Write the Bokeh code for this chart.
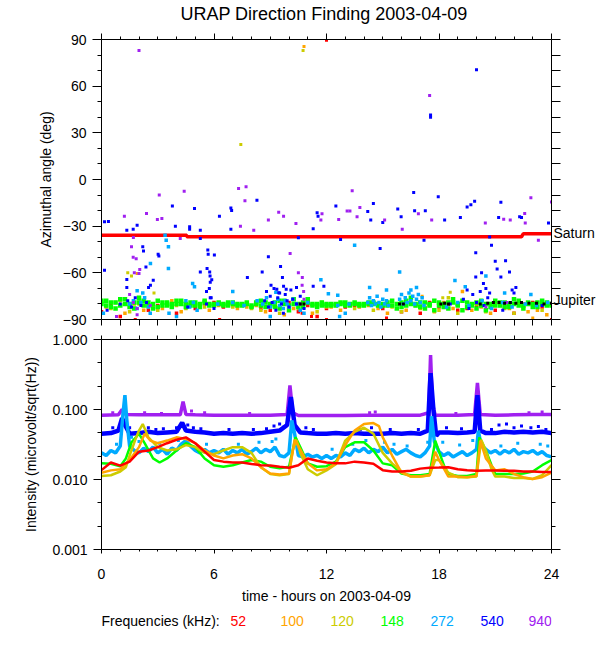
from bokeh.plotting import figure
from bokeh.models import (LinearAxis, LogAxis, FixedTicker, Label, PrintfTickFormatter, Range1d,
                          CustomJSTickFormatter)
from bokeh.layouts import column
from bokeh.embed import file_html
from bokeh.resources import INLINE

FONT = "Liberation Sans"

# ---------------- data ----------------
title_text = "URAP Direction Finding  2003-04-09"
hour_ticks = [0, 6, 12, 18, 24]
hour_minor = [1, 2, 3, 4, 5, 7, 8, 9, 10, 11, 13, 14, 15, 16, 17, 19, 20, 21, 22, 23]
angle_ticks = [-90, -60, -30, 0, 30, 60, 90]
angle_minor = [-80, -70, -50, -40, -20, -10, 10, 20, 40, 50, 70, 80]
int_ticks = [0.001, 0.01, 0.1, 1.0]
int_minor = [0.464, 0.215, 0.0464, 0.0215, 0.00464, 0.00215]

planet_names = ["Saturn", "Jupiter"]
planet_angles = [-34.5, -77.6]

freq_labels = ["52", "100", "120", "148", "272", "540", "940"]
freq_colors = ["#FF0000", "#FFA500", "#CCCC00", "#00FF00", "#00AAFF", "#0000FF", "#A020F0"]

# Saturn / Jupiter direction
saturn_t = [0.0, 4.55, 4.55, 22.4, 22.5, 24.0]
saturn_a = [-35.9, -35.9, -36.8, -36.8, -34.8, -34.8]
jupiter_t = [10.6, 10.8, 15.9, 16.1, 18.1, 18.3, 18.5, 20.2, 20.6, 20.9, 21.2, 21.5,
             21.8, 22.1, 22.4, 22.8, 23.2, 23.6, 24.0]
jupiter_a = [-80, -80, -80, -80, -80, -79.5, -80, -80, -79.5, -79, -79, -79.5,
             -79, -79.5, -79, -79.5, -79.5, -80, -79.5]

quarter_hours = [0.0, 0.25, 0.5, 0.75, 1.0, 1.25, 1.5, 1.75, 2.0, 2.25, 2.5, 2.75, 3.0,
                 3.25, 3.5, 3.75, 4.0, 4.25, 4.5, 4.75, 5.0, 5.25, 5.5, 5.75, 6.0,
                 6.25, 6.5, 6.75, 7.0, 7.25, 7.5, 7.75, 8.0, 8.25, 8.5, 8.75, 9.0,
                 9.25, 9.5, 9.75, 10.0, 10.25, 10.5, 10.75, 11.0, 11.25, 11.5, 11.75, 12.0,
                 12.25, 12.5, 12.75, 13.0, 13.25, 13.5, 13.75, 14.0, 14.25, 14.5, 14.75, 15.0,
                 15.25, 15.5, 15.75, 16.0, 16.25, 16.5, 16.75, 17.0, 17.25, 17.5, 17.75, 18.0,
                 18.25, 18.5, 18.75, 19.0, 19.25, 19.5, 19.75, 20.0, 20.25, 20.5, 20.75, 21.0,
                 21.25, 21.5, 21.75, 22.0, 22.25, 22.5, 22.75, 23.0, 23.25, 23.5, 23.75, 24.0]
half_hours = [0.0, 0.5, 1.0, 1.5, 2.0, 2.5, 3.0, 3.5, 4.0, 4.5, 5.0, 5.5, 6.0, 6.5, 7.0, 7.5,
              8.0, 8.5, 9.0, 9.5, 10.0, 10.5, 11.0, 11.5, 12.0, 12.5, 13.0, 13.5, 14.0, 14.5,
              15.0, 15.5, 16.0, 16.5, 17.0, 17.5, 18.0, 18.5, 19.0, 19.5, 20.0, 20.5, 21.0,
              21.5, 22.0, 22.5, 23.0, 23.5, 24.0]
half_hours_mid = [0.25, 0.75, 1.25, 1.75, 2.25, 2.75, 3.25, 3.75, 4.25, 4.75, 5.25, 5.75,
                  6.25, 6.75, 7.25, 7.75, 8.25, 8.75, 9.25, 9.75, 10.25, 10.75, 11.25, 11.75,
                  12.25, 12.75, 13.25, 13.75, 14.25, 14.75, 15.25, 15.75, 16.25, 16.75, 17.25,
                  17.75, 18.25, 18.75, 19.25, 19.75, 20.25, 20.75, 21.25, 21.75, 22.25, 22.75,
                  23.25, 23.75]

# Angles in the Jupiter band (deg)
green_band_a1 = [-80, -78, -82, -79, -81, -77, -80, -83, -79, -78, -81, -80, -82,
                 -79, -81, -80, -78, -80, -82, -79, -81, -80, -79, -81, -80,
                 -80, -81, -79, -80, -81, -80, -79, -81, -80, -78, -82, -80,
                 -79, -83, -78, -81, -80, -82, -79, -77, -81, -80, -81, -80,
                 -80, -81, -80, -79, -81, -80, -80, -81, -79, -80, -81, -80,
                 -79, -81, -80, -82, -78, -80, -81, -79, -83, -80, -78, -81,
                 -80, -83, -79, -81, -78, -82, -80, -79, -81, -84, -80, -78,
                 -81, -79, -82, -80, -78, -81, -80, -82, -79, -80, -81, -80]
green_band_a2 = [-78, -81, -79, -83, -77, -80, -82, -79, -76, -81, -79, -83, -78,
                 -81, -79, -82, -80, -78, -80, -81, -79, -82, -78, -80, -81,
                 -79, -80, -81, -79, -80, -81, -80, -82, -79, -81, -79, -81,
                 -82, -78, -80, -84, -77, -80, -82, -79, -80, -82, -79, -81,
                 -81, -80, -79, -81, -80, -79, -81, -80, -80, -79, -80, -81,
                 -81, -78, -83, -79, -81, -76, -80, -82, -79, -81, -84, -79,
                 -82, -79, -77, -80, -84, -79, -81, -83, -78, -80, -82, -81,
                 -79, -82, -80, -77, -81, -83, -79, -80, -82, -78, -79, -81]
yellow_band_a = [-79, -83, -78, -85, -80, -82, -84, -79, -81, -83,
                 -80, -82, -81, -80, -82, -81, -83, -84, -82, -86,
                 -81, -83, -78, -85, -82, -81, -80, -83, -81, -84,
                 -80, -82, -85, -78, -83, -81, -84, -76, -86, -82,
                 -80, -85, -79, -83, -86, -82, -81, -84, -80]
orange_band_a = [-82, -79, -86, -80, -84, -81, -83, -78, -85, -80,
                 -82, -84, -81, -80, -83, -82, -81, -85, -80, -87,
                 -83, -81, -86, -79, -82, -84, -80, -82, -81, -83,
                 -86, -80, -84, -81, -82, -85, -79, -83, -72, -84,
                 -82, -86, -81, -83, -80, -85, -84, -87]
red_band_a = [-85, -80, -88, -82, -79, -84, -81, -80, -86, -82,
              -83, -80, -79, -82, -81, -80, -82, -83, -84, -82,
              -79, -85, -81, -88, -83, -80, -82, -81, -80, -79,
              -83, -81, -85, -80, -86, -79, -82, -80, -84, -83,
              -81, -80, -84, -82, -86, -80, -79, -82, -80]

lightblue_pts_t = [1.5, 1.7, 1.9, 2.1, 2.3, 2.5, 4.5, 4.7, 4.9, 5.1, 6.2, 7.0, 7.6, 8.3,
                   8.6, 8.8, 9.0, 9.2, 9.4, 9.5, 9.6, 9.7, 9.8, 9.9, 10.0, 10.2, 10.4, 10.6, 11.0,
                   12.6, 13.2, 14.2, 14.3, 14.4, 14.5, 14.6, 14.7, 14.8, 14.9, 15.0, 15.1, 15.2, 15.3,
                   15.9, 16.0, 16.1, 16.2, 16.3, 16.4, 16.5, 16.6, 16.7, 16.8, 16.9, 17.0, 17.1, 17.2,
                   18.4, 19.0, 19.6, 20.3, 20.8, 21.4, 21.9, 22.6, 23.2, 23.8,
                   3.6, 4.0, 9.0, 10.8, 12.7, 13.0,
                   3.39, 3.57, 3.57, 2.61, 3.45, 4.86, 4.96, 12.6, 13.5, 14.3, 15.9, 16.8, 19.4,
                   18.85, 12.1, 7.0, 9.3, 21.5, 22.9, 1.9, 2.2, 11.7, 20.5, 0.1, 2.6, 16.5, 15.2]
lightblue_pts_a = [-80, -78, -83, -79, -76, -82, -78, -82, -79, -84, -80, -79, -81, -78,
                   -80, -76, -82, -79, -77, -81, -79, -83, -78, -80, -82, -77, -80, -84, -79,
                   -81, -80, -79, -76, -81, -78, -80, -75, -79, -82, -77, -80, -78, -81,
                   -77, -74, -80, -76, -79, -73, -78, -75, -80, -77, -74, -79, -76, -81,
                   -82, -79, -81, -78, -83, -79, -82, -80, -81, -79,
                   -86, -88, -88, -86, -88, -86,
                   -35.8, -43.3, -57.2, -54, -39, -66.9, -69, -74.4, -42.2, -69.4, -59.4, -69.4, -69,
                   -65, -73.5, -72, -72.5, -73, -74, -71.5, -73, -64.5, -62, -86, -86, -71, -71]

blue_pts_t = [0.3, 1.0, 1.4, 1.6, 1.8, 2.1, 2.4, 4.6, 5.6, 5.8, 6.0, 8.7, 8.8, 8.9, 9.0, 9.1,
              9.2, 9.3, 9.4, 9.5, 9.6, 9.7, 9.8, 9.9, 10.0, 10.1, 10.2, 10.4, 10.6, 10.8,
              18.6, 19.3, 19.6, 19.8, 20.0, 20.2, 20.4, 20.6, 21.4, 21.8, 22.0, 23.5,
              17.55, 17.55, 20.0, 8.29, 16.65, 17.96, 19.9, 19.7, 21.3, 14.5, 12.5, 3.78,
              0.16, 0.37, 1.35, 1.69, 1.9, 3.94, 4.7, 4.7, 4.96, 5.27, 5.27, 6.29, 6.9, 6.94,
              6.9, 11.29, 11.5, 11.55, 14.2, 14.36, 15.0, 15.8, 15.98, 16.7, 17.27, 18.3,
              19.14, 19.5, 21.18, 22.3, 22.4, 23.84, 12.75, 10.5, 0.16, 1.35, 1.35, 2.2,
              2.24, 2.37, 2.61, 2.51, 2.76, 3.02, 3.06, 5.27, 5.67, 5.69, 5.63, 5.77, 5.79,
              5.8, 5.75, 5.6, 5.85, 6.02, 5.88, 7.78, 8.57, 8.9, 9.04, 9.55, 9.65, 9.71,
              9.85, 9.35, 9.45, 10.4, 11.29, 11.86, 14.86, 17.2, 19.96, 20.37, 20.27, 19.96,
              20.8, 21.0, 21.1, 21.3, 21.55, 21.76, 21.9, 20.7, 22.1, 19.5, 20.5, 20.7]
blue_pts_a = [-84, -80, -78, -82, -76, -81, -79, -82, -80, -76, -83, -78, -72, -82, -75, -79,
              -70, -84, -76, -73, -80, -86, -74, -78, -82, -71, -77, -80, -75, -83,
              -80, -77, -83, -74, -79, -72, -81, -76, -84, -79, -73, -81,
              41.5, 40, 70.5, -13.3, -8.4, -11.1, -14, -16.3, -14.6, -15.4, -17, -17,
              -27.2, -27, -32.6, -32, -29.4, -30, -30.4, -32, -18.6, -32.6, -38, -23.6, -18.4, -20,
              -32, -31.7, -21.4, -23.6, -20.5, -26, -27.6, -18.9, -24, -20.1, -20.1, -26,
              -24.4, -17.6, -24.4, -24, -24.4, -27.9, -38.5, -37.5, -58.3, -69.4, -64.3, -43.3,
              -45.9, -56.3, -68, -69.4, -64.7, -48, -49.2, -59.4, -45.4, -48, -57.2, -59.4, -62,
              -66, -70, -72, -76, -48.6, -64.5, -63, -59.4, -49.7, -68, -56, -63, -68.6,
              -70.6, -70.6, -72.8, -69.5, -68.6, -68.6, -44.4, -39, -47.1, -66.9, -60, -62.6,
              -42.2, -52.5, -57.6, -62.6, -52.3, -59.4, -71, -36.9, -69.4, -71, -70, -73]

purple_pts_t = [1.7, 1.9, 2.6, 10.6, 10.8, 20.5, 21.6, 0.8, 1.9,
                2.0, 17.5, 7.31, 7.71, 7.65, 4.41, 3.08, 13.37, 22.9, 24.0, 1.22, 2.4, 2.98, 3.22,
                7.41, 8.12, 8.9, 9.45, 9.71, 10.37, 11.7, 11.76, 12.65, 13.1, 13.25, 13.63, 13.78,
                15.1, 16.04, 16.9, 17.61, 20.47, 21.45, 21.8, 22.57, 22.6, 23.3, 1.6, 1.69, 1.85,
                1.7, 1.75, 2.0, 2.04, 10.06, 10.5, 10.71, 10.78, 10.7, 1.5, 4.2]
purple_pts_a = [-79, -83, -81, -80, -77, -82, -79, -88, -87,
                83, 54, -5.8, -4.7, -13.7, -7.5, -10, -7.3, -11.8, -14.4, -23.6, -21.9, -25.7, -25,
                -30, -32.6, -26, -21, -23.6, -28.3, -26, -22, -25.7, -20.2, -20.2, -24, -18,
                -26, -32, -22, -26, -27.9, -25.5, -26, -21.9, -27.9, -39, -43.3, -50, -51,
                -37.3, -60, -60.5, -57.9, -47.6, -60, -63, -72, -68, -74, -38]

yellow_pts_t = [10.75, 7.43, 1.4, 1.6, 2.8, 18.6, 18.2]
yellow_pts_a = [83, 22.5, -60, -62, -73, -72.5, -76]
orange_pts_t = [10.8, 1.9, 17.1, 23.0]
orange_pts_a = [85.5, -60.5, -75, -89]
red_pts_t = [12.0, 0.0, 1.8, 12.0, 15.2, 24.0, 6.3, 10.7, 11.2]
red_pts_a = [89.5, -86, -90, -90, -89, -90, -90, -86, -88]

# Intensity (microvolt/sqrt(Hz))
f52_t = half_hours
f52_v = [0.0136, 0.0175, 0.0158, 0.018, 0.025, 0.026, 0.029, 0.033, 0.037, 0.040,
         0.033, 0.025, 0.019, 0.018, 0.0175, 0.0175, 0.0167, 0.016, 0.0158, 0.0152,
         0.0147, 0.016, 0.020, 0.0185, 0.0175, 0.017, 0.017, 0.018, 0.0175, 0.0168,
         0.0136, 0.013, 0.013, 0.0133, 0.0143, 0.0147, 0.0148, 0.015, 0.014, 0.0136,
         0.0133, 0.0135, 0.0135, 0.0133, 0.0133, 0.013, 0.013, 0.0128, 0.0128]
f100_t = [0.0, 0.5, 1.0, 1.5, 2.0, 2.3, 2.6, 3.0, 3.5, 4.0, 4.5, 5.0, 5.5, 6.0, 6.5, 7.0, 7.5,
          8.0, 8.5, 9.0, 9.5, 10.0, 10.3, 10.6, 11.0, 11.5, 12.0, 12.5, 13.0, 13.5, 14.0, 14.5,
          14.8, 15.0, 15.5, 16.0, 16.5, 17.0, 17.5, 17.8, 18.0, 18.5, 19.0, 19.5, 20.0, 20.2,
          20.5, 21.0, 21.5, 22.0, 22.5, 23.0, 23.5, 24.0]
f100_v = [0.0125, 0.0135, 0.014, 0.019, 0.029, 0.045, 0.036, 0.033, 0.036, 0.040, 0.038, 0.033,
          0.026, 0.022, 0.020, 0.022, 0.023, 0.020, 0.015, 0.0122, 0.0118, 0.0122, 0.037, 0.027,
          0.017, 0.0135, 0.014, 0.017, 0.031, 0.050, 0.062, 0.064, 0.058, 0.040, 0.022, 0.0125,
          0.011, 0.011, 0.0115, 0.025, 0.019, 0.011, 0.011, 0.0108, 0.0112, 0.036, 0.020, 0.0135,
          0.014, 0.012, 0.0108, 0.0102, 0.0108, 0.0125]
f120_t = [0.0, 0.5, 1.0, 1.3, 1.5, 1.8, 2.0, 2.2, 2.5, 3.0, 3.5, 4.0, 4.5, 5.0, 5.5, 6.0, 6.5,
          7.0, 7.5, 8.0, 8.5, 9.0, 9.5, 10.0, 10.2, 10.4, 10.6, 11.0, 11.5, 12.0, 12.5, 13.0,
          13.5, 14.0, 14.5, 15.0, 15.5, 16.0, 16.5, 17.0, 17.5, 17.8, 18.0, 18.5, 19.0, 19.5,
          20.0, 20.25, 20.5, 20.8, 21.0, 21.5, 22.0, 22.5, 23.0, 23.5, 24.0]
f120_v = [0.0112, 0.0115, 0.013, 0.015, 0.022, 0.037, 0.05, 0.062, 0.040, 0.029, 0.026, 0.027,
          0.031, 0.029, 0.024, 0.023, 0.026, 0.029, 0.029, 0.024, 0.015, 0.012, 0.0115, 0.012,
          0.026, 0.037, 0.024, 0.014, 0.0115, 0.0135, 0.0165, 0.036, 0.048, 0.055, 0.045, 0.024,
          0.017, 0.013, 0.011, 0.011, 0.0115, 0.019, 0.019, 0.0125, 0.0108, 0.0108, 0.011, 0.037,
          0.026, 0.014, 0.011, 0.011, 0.0105, 0.0105, 0.0102, 0.0115, 0.016]
f148_t = [0.0, 0.5, 1.0, 1.3, 1.6, 2.0, 2.3, 2.75, 3.1, 3.5, 4.0, 4.5, 5.0, 5.5, 6.0, 6.5, 7.0,
          7.5, 8.0, 8.5, 9.0, 9.5, 10.0, 10.35, 10.6, 11.0, 11.5, 12.0, 12.5, 13.0, 13.5, 14.0,
          14.5, 15.0, 15.5, 16.0, 16.5, 17.0, 17.5, 17.8, 18.0, 18.3, 18.5, 19.0, 19.5, 20.0,
          20.15, 20.5, 20.8, 21.0, 21.5, 22.0, 22.5, 23.0, 23.5, 24.0]
f148_v = [0.017, 0.0168, 0.0155, 0.02, 0.034, 0.045, 0.033, 0.02, 0.0175, 0.02, 0.026, 0.033,
          0.029, 0.020, 0.016, 0.0152, 0.016, 0.0175, 0.019, 0.018, 0.0152, 0.0145, 0.0152, 0.040,
          0.029, 0.017, 0.0152, 0.0155, 0.018, 0.029, 0.034, 0.034, 0.026, 0.017, 0.016, 0.0122,
          0.0115, 0.0115, 0.012, 0.036, 0.025, 0.015, 0.012, 0.0112, 0.0112, 0.012, 0.040, 0.026,
          0.016, 0.012, 0.012, 0.012, 0.0122, 0.013, 0.016, 0.019]
f272_t = [0.0, 0.25, 0.5, 0.75, 1.0, 1.15, 1.25, 1.35, 1.5, 1.75, 2.0, 2.25, 2.5, 2.75, 3.0,
          3.25, 3.5, 3.75, 4.0, 4.25, 4.5, 4.75, 5.0, 5.25, 5.5, 5.75, 6.0, 6.25, 6.5, 6.75,
          7.0, 7.25, 7.5, 7.75, 8.0, 8.25, 8.5, 8.75, 9.0, 9.25, 9.5, 9.75, 10.0, 10.15, 10.3,
          10.5, 10.75, 11.0, 11.25, 11.5, 11.75, 12.0, 12.25, 12.5, 12.75, 13.0, 13.25, 13.5,
          13.75, 14.0, 14.25, 14.5, 14.75, 15.0, 15.25, 15.5, 15.75, 16.0, 16.25, 16.5, 16.75,
          17.0, 17.25, 17.5, 17.6, 17.75, 18.0, 18.25, 18.5, 18.75, 19.0, 19.25, 19.5, 19.75,
          20.0, 20.1, 20.25, 20.5, 20.75, 21.0, 21.25, 21.5, 21.75, 22.0, 22.25, 22.5, 22.75,
          23.0, 23.25, 23.5, 23.75, 24.0]
f272_v = [0.024, 0.022, 0.026, 0.024, 0.03, 0.09, 0.16, 0.07, 0.03, 0.026, 0.024, 0.028, 0.025,
          0.029, 0.024, 0.027, 0.023, 0.028, 0.026, 0.032, 0.036, 0.03, 0.026, 0.024, 0.027,
          0.024, 0.026, 0.024, 0.027, 0.023, 0.026, 0.024, 0.027, 0.023, 0.025, 0.028, 0.024,
          0.027, 0.025, 0.029, 0.022, 0.021, 0.024, 0.07, 0.045, 0.022, 0.021, 0.023, 0.021,
          0.022, 0.02, 0.022, 0.02, 0.022, 0.021, 0.024, 0.022, 0.027, 0.025, 0.028, 0.024,
          0.027, 0.025, 0.029, 0.024, 0.027, 0.023, 0.025, 0.027, 0.024, 0.022, 0.021, 0.024,
          0.03, 0.08, 0.035, 0.025, 0.022, 0.024, 0.021, 0.023, 0.025, 0.022, 0.024, 0.027,
          0.05, 0.03, 0.027, 0.024, 0.026, 0.023, 0.026, 0.024, 0.027, 0.023, 0.025, 0.024,
          0.026, 0.023, 0.025, 0.022, 0.021]
f540_t = [0.0, 0.5, 0.9, 1.1, 1.25, 1.5, 2.0, 2.5, 3.0, 3.5, 4.0, 4.3, 4.5, 5.0, 5.5, 6.0, 6.5,
          7.0, 7.5, 8.0, 8.5, 9.0, 9.5, 9.9, 10.1, 10.3, 10.6, 11.0, 11.5, 12.0, 12.5, 13.0,
          13.5, 14.0, 14.5, 15.0, 15.5, 16.0, 16.5, 17.0, 17.4, 17.55, 17.7, 17.85, 18.0, 18.5,
          19.0, 19.5, 19.9, 20.05, 20.2, 20.5, 21.0, 21.5, 22.0, 22.5, 23.0, 23.5, 24.0]
f540_v = [0.045, 0.046, 0.05, 0.075, 0.06, 0.045, 0.046, 0.048, 0.046, 0.047, 0.048, 0.065,
          0.05, 0.048, 0.047, 0.045, 0.046, 0.045, 0.046, 0.045, 0.046, 0.048, 0.05, 0.06, 0.15,
          0.06, 0.047, 0.046, 0.045, 0.045, 0.046, 0.045, 0.046, 0.045, 0.045, 0.045, 0.046,
          0.045, 0.046, 0.045, 0.05, 0.33, 0.1, 0.042, 0.047, 0.047, 0.046, 0.047, 0.048, 0.16,
          0.05, 0.046, 0.046, 0.048, 0.047, 0.048, 0.047, 0.048, 0.046]
f940_t = [0.0, 0.9, 1.1, 1.3, 2.0, 3.0, 4.2, 4.35, 4.5, 5.0, 6.0, 7.0, 8.0, 9.0, 9.9, 10.05,
          10.2, 10.5, 11.0, 12.0, 13.0, 14.0, 15.0, 16.0, 17.0, 17.45, 17.55, 17.65, 17.8, 18.5,
          19.0, 19.9, 20.05, 20.2, 21.0, 22.0, 23.0, 24.0]
f940_v = [0.083, 0.084, 0.1, 0.085, 0.084, 0.084, 0.084, 0.13, 0.085, 0.084, 0.083, 0.083,
          0.083, 0.083, 0.085, 0.22, 0.09, 0.082, 0.082, 0.082, 0.082, 0.083, 0.083, 0.083,
          0.083, 0.09, 0.6, 0.12, 0.083, 0.083, 0.083, 0.085, 0.24, 0.085, 0.083, 0.084, 0.085,
          0.085]

# scattered samples above the noisy bands
f940_pts_t = [0.6, 2.3, 3.2, 4.8, 5.5, 7.9, 14.3, 14.6, 18.9, 22.8, 23.5]
f940_pts_v = [0.09, 0.09, 0.088, 0.095, 0.09, 0.088, 0.09, 0.092, 0.088, 0.09, 0.092]
f540_pts_t = [0.6, 1.5, 2.5, 2.9, 3.3, 4.0, 4.6, 4.9, 5.3, 6.8, 8.1, 8.8, 9.2, 9.5, 9.7,
              10.9, 11.3, 13.8, 14.4, 15.4, 16.9, 18.4, 19.2, 20.8, 21.2, 21.6, 22.0, 22.4,
              22.9, 23.3, 23.7]
f540_pts_v = [0.055, 0.055, 0.055, 0.052, 0.053, 0.055, 0.06, 0.055, 0.053, 0.052, 0.052,
              0.053, 0.058, 0.062, 0.056, 0.055, 0.052, 0.052, 0.055, 0.052, 0.052, 0.055,
              0.053, 0.052, 0.06, 0.062, 0.055, 0.058, 0.055, 0.057, 0.052]
f272_pts_t = [0.8, 1.6, 2.0, 3.1, 4.1, 5.6, 7.3, 8.4, 9.1, 9.3, 12.3, 13.4, 14.1, 15.1, 15.6,
              16.3, 17.4, 18.2, 19.1, 19.8, 21.3, 22.2, 23.4, 23.8]
f272_pts_v = [0.032, 0.04, 0.035, 0.033, 0.036, 0.032, 0.032, 0.034, 0.035, 0.038, 0.027,
              0.032, 0.036, 0.034, 0.032, 0.03, 0.034, 0.034, 0.031, 0.036, 0.03, 0.033, 0.032,
              0.03]

# ---------------- layout constants (page pixels) ----------------
PAGE_W = 600
FRAME_L = 101
FRAME_W = 450
BORDER_R = PAGE_W - FRAME_L - FRAME_W
legend_px = [230, 280, 330, 380, 430, 480, 528]
legend_label_px = 101
legend_row_y = 14
title_cx = 326
title_cy = 13.5


def style_axis(ax, major_out, minor_out, labels):
    ax.major_tick_in = 0
    ax.minor_tick_in = 0
    ax.major_tick_out = major_out
    ax.minor_tick_out = minor_out
    ax.axis_line_color = "black"
    ax.axis_line_width = 1
    ax.major_tick_line_color = "black" if major_out > 0 else None
    ax.minor_tick_line_color = "black" if minor_out > 0 else None
    if labels:
        ax.major_label_text_font = FONT
        ax.major_label_text_font_size = "14px"
        ax.major_label_text_color = "black"
        ax.major_label_standoff = 6
    else:
        ax.major_label_text_font_size = "1px"
        ax.major_label_text_color = None
        ax.major_label_standoff = 0
    ax.axis_label_text_font = FONT
    ax.axis_label_text_font_size = "14px"
    ax.axis_label_text_font_style = "normal"
    ax.axis_label_text_color = "black"
    return ax


def text_strip(height):
    # frame spans the panels' frame horizontally; x data are page pixels
    f = figure(frame_width=FRAME_W, frame_height=height,
               x_range=Range1d(FRAME_L, FRAME_L + FRAME_W), y_range=Range1d(height, 0),
               output_backend="svg", toolbar_location=None,
               x_axis_location=None, y_axis_location=None,
               min_border_left=FRAME_L, min_border_right=BORDER_R, min_border_top=0,
               min_border_bottom=0, background_fill_color="white", border_fill_color="white",
               outline_line_color=None)
    f.xgrid.visible = False
    f.ygrid.visible = False
    return f


# ---------------- title strip ----------------
head = text_strip(33)
head.add_layout(Label(x=title_cx, y=title_cy, text=title_text, text_align="center",
                      text_baseline="middle", text_font=FONT, text_font_size="18px",
                      text_color="black"))

# ---------------- top panel ----------------
top = figure(frame_width=FRAME_W, frame_height=280, x_range=Range1d(0, 24), y_range=Range1d(-90, 90),
             output_backend="svg", toolbar_location=None,
             x_axis_location=None, y_axis_location=None,
             min_border_left=FRAME_L, min_border_right=BORDER_R,
             min_border_top=6, min_border_bottom=11,
             background_fill_color="white", border_fill_color="white", outline_line_color=None)
top.xgrid.visible = False
top.ygrid.visible = False

hx = lambda: FixedTicker(ticks=hour_ticks, minor_ticks=hour_minor)
ay = lambda: FixedTicker(ticks=angle_ticks, minor_ticks=angle_minor)

ax_l = style_axis(LinearAxis(ticker=ay()), 9, 4, True)
ax_l.axis_label = "Azimuthal angle (deg)"
ax_l.axis_label_standoff = 6
top.add_layout(ax_l, "left")

planet_ticker = FixedTicker(ticks=planet_angles, minor_ticks=sorted(angle_ticks + angle_minor))
ax_r = style_axis(LinearAxis(ticker=planet_ticker), 0, 9, True)
ax_r.formatter = CustomJSTickFormatter(args=dict(a=planet_angles, n=planet_names),
                                       code="const i = a.indexOf(tick); return i >= 0 ? n[i] : '';")
ax_r.major_label_standoff = -7
ax_r.major_label_text_font_size = "14px"
top.add_layout(ax_r, "right")
top.add_layout(style_axis(LinearAxis(ticker=hx()), 6, 3, False), "above")
top.add_layout(style_axis(LinearAxis(ticker=hx()), 6, 6, False), "below")

top.line(saturn_t, saturn_a, line_color="#FF0000", line_width=3.5)
top.scatter(half_hours, red_band_a, marker="square", size=3.5, color="#FF0000", line_width=0)
top.scatter(red_pts_t, red_pts_a, marker="square", size=3, color="#FF0000", line_width=0)
top.scatter(half_hours_mid, orange_band_a, marker="square", size=3.5, color="#FFA500", line_width=0)
top.scatter(orange_pts_t, orange_pts_a, marker="square", size=3, color="#FFA500", line_width=0)
top.scatter(half_hours, yellow_band_a, marker="square", size=3.5, color="#CCCC00", line_width=0)
top.scatter(yellow_pts_t, yellow_pts_a, marker="square", size=3, color="#CCCC00", line_width=0)
top.scatter(quarter_hours, green_band_a1, marker="square", size=4.5, color="#00FF00", line_width=0)
top.scatter(quarter_hours, green_band_a2, marker="square", size=4.5, color="#00FF00", line_width=0)
top.scatter(lightblue_pts_t, lightblue_pts_a, marker="square", size=3.5, color="#00AAFF", line_width=0)
top.scatter(blue_pts_t, blue_pts_a, marker="square", size=3, color="#0000FF", line_width=0)
top.scatter(purple_pts_t, purple_pts_a, marker="square", size=3, color="#A020F0", line_width=0)
top.scatter(jupiter_t, jupiter_a, marker="square", size=3, color="black", line_width=0)

# ---------------- bottom panel ----------------
bot = figure(frame_width=FRAME_W, frame_height=210, x_range=top.x_range, y_range=Range1d(0.001, 1.0),
             y_axis_type="log", output_backend="svg", toolbar_location=None,
             x_axis_location=None, y_axis_location=None,
             min_border_left=FRAME_L, min_border_right=BORDER_R,
             min_border_top=9, min_border_bottom=57,
             background_fill_color="white", border_fill_color="white", outline_line_color=None)
bot.xgrid.visible = False
bot.ygrid.visible = False

iy = lambda: FixedTicker(ticks=int_ticks, minor_ticks=int_minor)
bl = style_axis(LogAxis(ticker=iy(), formatter=PrintfTickFormatter(format="%.3f")), 8, 4, True)
bl.axis_label = "Intensity (microvolt/sqrt(Hz))"
bl.axis_label_standoff = 10
bot.add_layout(bl, "left")
bot.add_layout(style_axis(LogAxis(ticker=iy()), 9, 4, False), "right")
bot.add_layout(style_axis(LinearAxis(ticker=hx()), 4, 4, False), "above")
bb = style_axis(LinearAxis(ticker=hx()), 4, 2, True)
bb.major_label_standoff = 15
bb.axis_label = "time - hours on 2003-04-09"
bb.axis_label_standoff = 6
bot.add_layout(bb, "below")

bot.line(f940_t, f940_v, line_color="#A020F0", line_width=3.5)
bot.scatter(f940_pts_t, f940_pts_v, marker="square", size=3, color="#A020F0", line_width=0)
bot.line(f540_t, f540_v, line_color="#0000FF", line_width=4.5)
bot.scatter(f540_pts_t, f540_pts_v, marker="square", size=3, color="#0000FF", line_width=0)
bot.line(f272_t, f272_v, line_color="#00AAFF", line_width=3.5)
bot.scatter(f272_pts_t, f272_pts_v, marker="square", size=3, color="#00AAFF", line_width=0)
bot.line(f148_t, f148_v, line_color="#00FF00", line_width=2.5)
bot.line(f120_t, f120_v, line_color="#CCCC00", line_width=2.5)
bot.line(f100_t, f100_v, line_color="#FFA500", line_width=2.5)
bot.line(f52_t, f52_v, line_color="#FF0000", line_width=2.5)

# ---------------- legend strip ----------------
foot = text_strip(30)
foot.add_layout(Label(x=legend_label_px, y=legend_row_y, text="Frequencies (kHz):",
                      text_align="left", text_baseline="middle", text_font=FONT,
                      text_font_size="14px", text_color="black"))
for lx, lab, col in zip(legend_px, freq_labels, freq_colors):
    foot.add_layout(Label(x=lx, y=legend_row_y, text=lab, text_align="left",
                          text_baseline="middle", text_font=FONT, text_font_size="14px",
                          text_color=col))

layout = column(head, top, bot, foot, spacing=0)
open("out.html", "w").write(file_html(layout, INLINE))
